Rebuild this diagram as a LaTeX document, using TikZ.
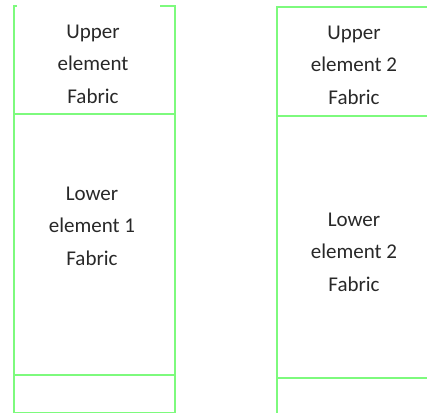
\documentclass[tikz,border=0pt]{standalone}
\usepackage{fontspec}
\setmainfont{Carlito}
\usetikzlibrary{positioning}
\definecolor{frame}{RGB}{125,250,125}
\definecolor{ink}{RGB}{40,40,40}

\begin{document}
\begin{tikzpicture}[x=1pt, y=-1pt,
  wall/.style = {frame, line width = 2.6pt},
  fabtext/.style = {align = center, text = ink, inner sep = 0pt, font = \fontsize{21}{32.5}\selectfont}]
\useasboundingbox (0,0) rectangle (427,412);
\draw[wall] (17,6) -| (14,413) -| (175,6) -- (160,6);
\draw[wall] (14,114) -- (175,114);
\draw[wall] (14,375) -- (175,375);
\draw[wall] (430,7) -| (277,413);
\draw[wall] (277,116) -- (430,116);
\draw[wall] (277,378) -- (430,378);
\node[fabtext] (upper1) at (93,64) {Upper\\element\\Fabric};
\node[fabtext] (lower1) at (92,226) {Lower\\element 1\\Fabric};
\node[fabtext] (upper2) at (354,65) {Upper\\element 2\\Fabric};
\node[fabtext] (lower2) at (354,252) {Lower\\element 2\\Fabric};
\end{tikzpicture}
\end{document}
